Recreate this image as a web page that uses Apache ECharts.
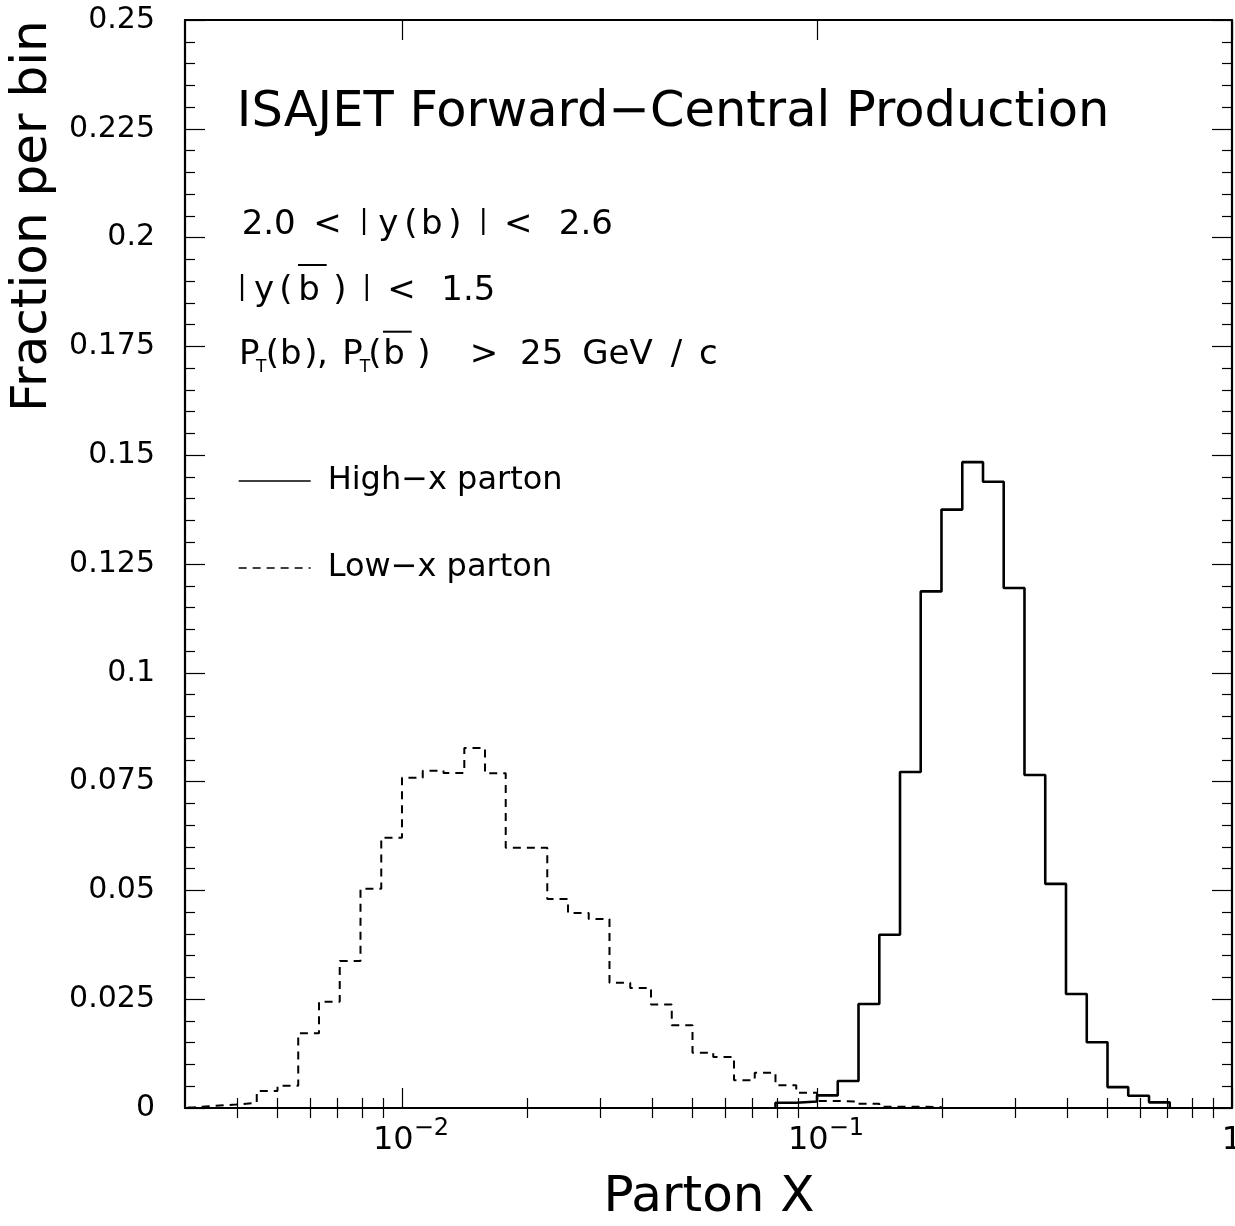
<!DOCTYPE html>
<html>
<head>
<meta charset="utf-8">
<title>ISAJET Forward-Central Production: parton x</title>
<script src="https://cdn.jsdelivr.net/npm/echarts@6/dist/echarts.min.js"></script>
<style>
  html, body { margin: 0; padding: 0; background: #ffffff; }
  #chart { width: 1235px; height: 1226px; }
</style>
</head>
<body>
<div id="chart"></div>
<script>
// Histogram bin edges: 20 bins per decade in Parton X (log10 steps of 0.05, from 10^-2.55 to 1)
const binEdges = [
  0.002818, 0.003162, 0.003548, 0.003981, 0.004467, 0.005012, 0.005623, 0.006310, 0.007079, 0.007943,
  0.008913, 0.01,     0.01122,  0.01259,  0.01413,  0.01585,  0.01778,  0.01995,  0.02239,  0.02512,
  0.02818,  0.03162,  0.03548,  0.03981,  0.04467,  0.05012,  0.05623,  0.06310,  0.07079,  0.07943,
  0.08913,  0.1,      0.1122,   0.1259,   0.1413,   0.1585,   0.1778,   0.1995,   0.2239,   0.2512,
  0.2818,   0.3162,   0.3548,   0.3981,   0.4467,   0.5012,   0.5623,   0.6310,   0.7079,   0.7943,
  0.8913,   1
];

// Fraction per bin, one value per bin (51 bins)
const highXParton = [
  0, 0, 0, 0, 0, 0, 0, 0, 0, 0,
  0, 0, 0, 0, 0, 0, 0, 0, 0, 0,
  0, 0, 0, 0, 0, 0, 0, 0, 0, 0.0012,
  0.0015, 0.0029, 0.0062, 0.0239, 0.0398, 0.0772, 0.1187, 0.1375, 0.1484, 0.1439,
  0.1195, 0.0765, 0.0515, 0.0262, 0.0151, 0.0048, 0.0028, 0.0013, 0, 0,
  0
];
const lowXParton = [
  0.0002, 0.0005, 0.0008, 0.0012, 0.0039, 0.0051, 0.0172, 0.0244, 0.0338, 0.0504,
  0.0621, 0.0759, 0.0775, 0.0770, 0.0827, 0.0769, 0.0598, 0.0598, 0.0480, 0.0448,
  0.0434, 0.0288, 0.0276, 0.0238, 0.0190, 0.0127, 0.0117, 0.0064, 0.0081, 0.0052,
  0.0035, 0.0016, 0.0015, 0.0010, 0.0003, 0.0003, 0.0002, 0, 0, 0,
  0, 0, 0, 0, 0, 0, 0, 0, 0, 0,
  0
];

const seriesNames = ['High\u2212x parton', 'Low\u2212x parton'];

// Axis ticks
const xRange = [0.003, 1];
const xMajorTicks = [0.01, 0.1, 1];
const xMinorTicks = [
  0.004, 0.005, 0.006, 0.007, 0.008, 0.009,
  0.02, 0.03, 0.04, 0.05, 0.06, 0.07, 0.08, 0.09,
  0.2, 0.3, 0.4, 0.5, 0.6, 0.7, 0.8, 0.9
];
const yRange = [0, 0.25];
const yStep = 0.025;

const FONT = 'DejaVu Sans';
const INK = '#000000';

// Outline of a histogram: step line over the bin edges, closed down to zero at both ends
function histogramOutline(values) {
  const first = values.findIndex(v => v > 0);
  let last = values.length - 1;
  while (last > first && !(values[last] > 0)) last--;
  const pts = [[binEdges[first], 0]];
  for (let i = first; i <= last; i++) pts.push([binEdges[i], values[i]]);
  pts.push([binEdges[last + 1], values[last]]);
  pts.push([binEdges[last + 1], 0]);
  return pts;
}

// Plain text placed by its baseline
function txt(text, x, baseline, size, align) {
  return {
    type: 'text', silent: true,
    x: x, y: baseline - 0.346 * size,
    style: {
      text: text, font: size + 'px "' + FONT + '"', fill: INK,
      textAlign: align || 'center', textVerticalAlign: 'middle'
    }
  };
}
// Absolute-value bar sitting on the baseline
function bar(x, baseline) {
  return txt('|', x, baseline - 6.4, 27, 'center');
}
function overline(x1, x2, y) {
  return {
    type: 'line', silent: true,
    shape: { x1: x1, y1: y, x2: x2, y2: y },
    style: { stroke: INK, lineWidth: 2 }
  };
}

const frameLine = { show: true, onZero: false, lineStyle: { color: INK, width: 2.2 } };
const tickLine = { color: INK, width: 1.2 };

function xAxisPair(position, withLabels) {
  return [
    {
      type: 'log', logBase: 10, min: xRange[0], max: xRange[1], position: position,
      axisLine: frameLine,
      splitLine: { show: false },
      axisTick: { show: true, inside: true, length: 20, customValues: xMajorTicks, lineStyle: tickLine },
      axisLabel: withLabels ? {
        show: true, customValues: xMajorTicks, margin: 9, color: INK,
        formatter: function (v) {
          const e = Math.round(Math.log10(v));
          if (e === 0) return '{one|1}';
          return '{base|10}{sup|' + (e < 0 ? '\u2212' : '') + Math.abs(e) + '}';
        },
        rich: {
          base: { fontFamily: FONT, fontSize: 32, lineHeight: 32, color: INK, padding: [14.5, 0, 0, 18] },
          one:  { fontFamily: FONT, fontSize: 32, lineHeight: 32, color: INK, padding: [14.5, 0, 0, 0] },
          sup:  { fontFamily: FONT, fontSize: 24, lineHeight: 24, color: INK, verticalAlign: 'top' }
        }
      } : { show: false }
    },
    {
      type: 'log', logBase: 10, min: xRange[0], max: xRange[1], position: position,
      axisLine: { show: false },
      splitLine: { show: false },
      axisTick: { show: true, inside: true, length: 10, customValues: xMinorTicks, lineStyle: tickLine },
      axisLabel: { show: false }
    }
  ];
}

function yAxisSide(position, withLabels) {
  return {
    type: 'value', min: yRange[0], max: yRange[1], interval: yStep, position: position,
    axisLine: frameLine,
    splitLine: { show: false },
    minorSplitLine: { show: false },
    axisTick: { show: true, inside: true, length: 20, lineStyle: tickLine },
    minorTick: { show: true, splitNumber: 5, length: 10, lineStyle: tickLine },
    axisLabel: withLabels ? {
      show: true, margin: 30, color: INK, fontFamily: FONT, fontSize: 30,
      formatter: v => (v === 0 ? '0' : String(+v.toFixed(3)))
    } : { show: false }
  };
}

const chart = echarts.init(document.getElementById('chart'), null, { renderer: 'canvas' });

const option = {
  backgroundColor: '#ffffff',
  animation: false,
  grid: { left: 185, right: 3, top: 20, bottom: 118, containLabel: false, outerBoundsMode: 'none' },
  xAxis: [].concat(xAxisPair('bottom', true), xAxisPair('top', false)),
  yAxis: [yAxisSide('left', true), yAxisSide('right', false)],
  legend: {
    orient: 'vertical', left: 238, top: 465, padding: 0,
    itemWidth: 72, itemHeight: 20, itemGap: 55,
    data: seriesNames,
    lineStyle: { width: 1.3 },
    itemStyle: { color: 'rgba(0,0,0,0)', borderWidth: 0, opacity: 0 },
    textStyle: { fontFamily: FONT, fontSize: 32, color: INK, padding: [0, 0, 0, 12] },
    selectedMode: false
  },
  series: [
    {
      name: seriesNames[0], type: 'line', xAxisIndex: 0, yAxisIndex: 0,
      step: 'end', symbol: 'none', clip: true,
      lineStyle: { color: INK, width: 2.6, type: 'solid' },
      itemStyle: { color: INK },
      data: histogramOutline(highXParton)
    },
    {
      name: seriesNames[1], type: 'line', xAxisIndex: 0, yAxisIndex: 0,
      step: 'end', symbol: 'none', clip: true,
      lineStyle: { color: INK, width: 2, type: [8, 6] },
      itemStyle: { color: INK },
      data: histogramOutline(lowXParton)
    }
  ],
  graphic: [
    // Title
    txt('ISAJET Forward\u2212Central Production', 236.8, 130, 49.5, 'left'),
    // 2.0 < |y(b)| < 2.6
    txt('2.0', 268.7, 236.7, 34), txt('<', 327.5, 236.7, 34), bar(364, 236.7),
    txt('y', 388.3, 236.7, 34), txt('(', 410.8, 236.7, 34), txt('b', 431.7, 236.7, 34),
    txt(')', 455, 236.7, 34), bar(483.3, 236.7), txt('<', 518.3, 236.7, 34), txt('2.6', 585.8, 236.7, 34),
    // |y(b-bar)| < 1.5
    bar(242, 302.7), txt('y', 264, 302.7, 34), txt('(', 285.8, 302.7, 34), txt('b', 309, 302.7, 34),
    overline(298, 326.7, 265), txt(')', 339.8, 302.7, 34), bar(366.7, 302.7),
    txt('<', 401.5, 302.7, 34), txt('1.5', 468.3, 302.7, 34),
    // P_T(b), P_T(b-bar) > 25 GeV/c
    txt('P', 249.2, 366.7, 34), txt('T', 261.2, 373, 17), txt('(', 272.3, 366.7, 34),
    txt('b', 290.8, 366.7, 34), txt(')', 310.8, 366.7, 34), txt(',', 322.5, 366.7, 34),
    txt('P', 352.5, 366.7, 34), txt('T', 365, 373, 17), txt('(', 375, 366.7, 34),
    txt('b', 394, 366.7, 34), overline(383, 411.7, 331.7), txt(')', 424, 366.7, 34),
    txt('>', 484, 366.7, 34), txt('25', 541.7, 366.7, 34), txt('GeV', 617.5, 366.7, 34),
    txt('/', 676.5, 366.7, 34), txt('c', 708.3, 366.7, 34),
    // Axis titles
    txt('Parton X', 709, 1215, 50, 'center'),
    {
      type: 'text', silent: true, x: 32.7, y: 412, rotation: Math.PI / 2,
      style: {
        text: 'Fraction per bin', font: '50px "' + FONT + '"', fill: INK,
        textAlign: 'left', textVerticalAlign: 'middle'
      }
    }
  ]
};

chart.setOption(option);
</script>
</body>
</html>
